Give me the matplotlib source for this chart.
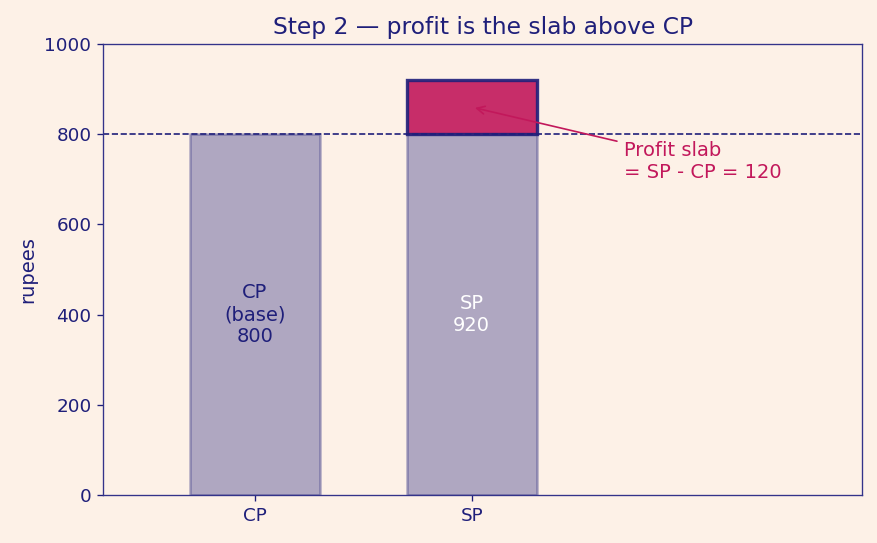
import matplotlib.pyplot as plt

categories = ["CP", "SP"]
values = [800, 920]
cp = 800
sp = 920
profit = sp - cp

bg = "#fdf1e7"
navy = "#1f1f7a"
crimson = "#c2185b"

fig = plt.figure(figsize=(877 / 120, 543 / 120), dpi=120, facecolor=bg)
ax = fig.add_axes([0.1175, 0.0884, 0.8655, 0.8306])
ax.set_facecolor(bg)

# base slabs
ax.bar([0, 1], [cp, cp], width=0.6, color=navy, alpha=0.35,
       edgecolor=navy, linewidth=1.5)
# profit slab on top of SP
ax.bar([1], [profit], bottom=[cp], width=0.6, color=crimson, alpha=0.9,
       edgecolor=navy, linewidth=2)

ax.axhline(cp, color=navy, linestyle="--", linewidth=1.0)

ax.text(0, 400, "CP\n(base)\n800", ha="center", va="center",
        color=navy, fontsize=11.7)
ax.text(1, 400, "SP\n%d" % sp, ha="center", va="center",
        color="white", fontsize=11.7)

ax.annotate("Profit slab\n= SP - CP = %d" % profit, xy=(1.0, 860),
            xytext=(1.7, 740), ha="left", va="center", color=crimson,
            fontsize=11.7,
            arrowprops=dict(arrowstyle="->", color=crimson, lw=1.0))

ax.set_xlim(-0.7, 2.8)
ax.set_ylim(0, 1000)
ax.set_xticks([0, 1])
ax.set_xticklabels(categories)
ax.set_yticks(range(0, 1001, 200))
ax.set_ylabel("rupees", color=navy, fontsize=11.7)
ax.set_title("Step 2 \u2014 profit is the slab above CP", color=navy, fontsize=14)

ax.tick_params(colors=navy, labelsize=11)
for s in ax.spines.values():
    s.set_color("#33338a")

plt.savefig("out.png", dpi=120, facecolor=bg)
